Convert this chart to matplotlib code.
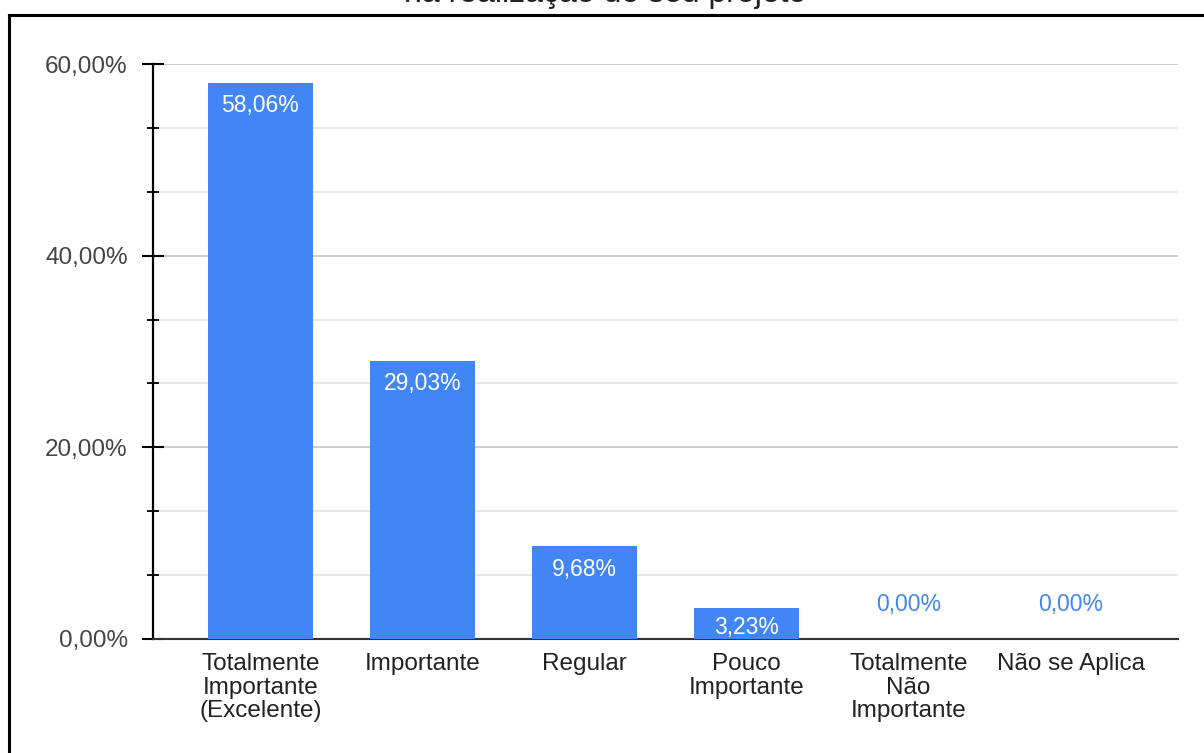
import matplotlib.pyplot as plt
from matplotlib.lines import Line2D
from matplotlib.ticker import MultipleLocator, FuncFormatter

plt.rcParams['font.family'] = ['Liberation Sans', 'DejaVu Sans']

# Responses per category (percent)
categories = ['Totalmente\nImportante\n(Excelente)', 'Importante', 'Regular',
              'Pouco\nImportante', 'Totalmente\nNão\nImportante', 'Não se Aplica']
values = [58.06, 29.03, 9.68, 3.23, 0.00, 0.00]

bar_color = '#4285F4'


def pt_br(v, decimals=2):
    return f'{v:.{decimals}f}'.replace('.', ',') + '%'


fig = plt.figure(figsize=(12.04, 7.53), dpi=100)
ax = fig.add_axes([0.1271, 0.1514, 0.8513, 0.7636])

x = range(len(values))
bars = ax.bar(x, values, width=0.648, color=bar_color, zorder=3)

ax.set_xlim(-0.663, len(values) - 1 + 0.663)
ax.set_ylim(0, 60)

# points per percent on the y axis, used to keep labels inside short bars
pts_per_unit = ax.get_position().height * fig.get_figheight() * 72 / 60

# value labels: inside the bar when there is room, above otherwise
for rect, v in zip(bars, values):
    cx = rect.get_x() + rect.get_width() / 2
    if v > 2:
        off = min(16.5, v * pts_per_unit / 2 + 3)
        ax.annotate(pt_br(v), (cx, v), xytext=(0, -off), textcoords='offset points',
                    ha='center', va='center', color='white', fontsize=16.5, zorder=4)
    else:
        ax.annotate(pt_br(v), (cx, v), xytext=(0, 25), textcoords='offset points',
                    ha='center', va='center', color=bar_color, fontsize=16.5, zorder=4)

# grid and ticks
ax.yaxis.set_major_locator(MultipleLocator(20))
ax.yaxis.set_minor_locator(MultipleLocator(20 / 3))
ax.yaxis.set_major_formatter(FuncFormatter(lambda v, p: pt_br(v)))
ax.grid(axis='y', which='major', color='#cccccc', linewidth=1.4, zorder=0)
ax.grid(axis='y', which='minor', color='#e8e8e8', linewidth=1.4, zorder=0)

ax.tick_params(axis='y', which='major', direction='inout', length=16.5, width=1.5,
               color='black', labelsize=17.5, labelcolor='#444444', pad=10)
ax.tick_params(axis='y', which='minor', direction='inout', length=8.6, width=1.3,
               color='black')
ax.set_xticks(list(x))
ax.set_xticklabels(categories, fontsize=17.5, color='#222222', linespacing=1.1)
ax.tick_params(axis='x', length=0, pad=10)

for side in ('top', 'right'):
    ax.spines[side].set_visible(False)
ax.spines['left'].set_linewidth(1.6)
ax.spines['left'].set_color('black')
ax.spines['bottom'].set_linewidth(1.5)
ax.spines['bottom'].set_color('#333333')
ax.set_axisbelow(True)

# title clipped by the top edge, and the outer frame
fig.text(0.503, 1 - 2 / 753, 'na realização do seu projeto', ha='center', va='baseline',
         fontsize=23, color='#222222')
fig.add_artist(Line2D([9 / 1204, 1], [1 - 15 / 753, 1 - 15 / 753], color='black',
                      linewidth=2.2, transform=fig.transFigure))
fig.add_artist(Line2D([9 / 1204, 9 / 1204], [0, 1 - 15 / 753], color='black',
                      linewidth=2.2, transform=fig.transFigure))

fig.savefig('out.png', dpi=100)
